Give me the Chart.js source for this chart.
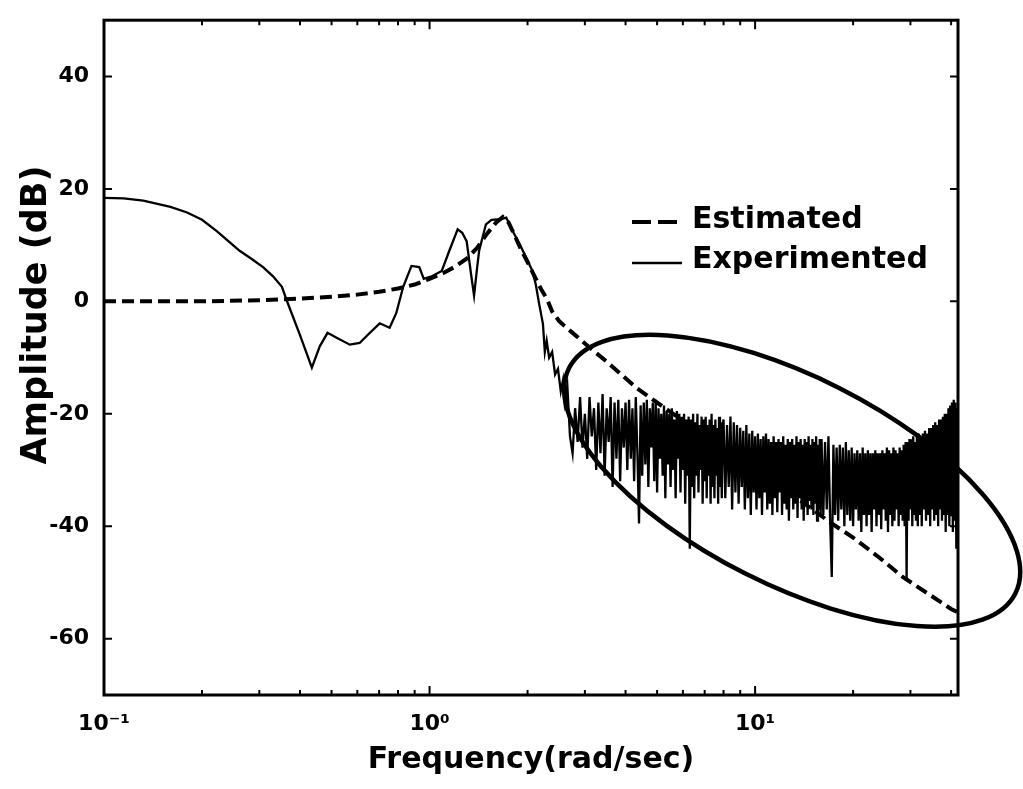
<!DOCTYPE html>
<html>
<head>
<meta charset="utf-8">
<script src="https://cdn.jsdelivr.net/npm/chart.js@4.4.1/dist/chart.umd.min.js"></script>
<style>
  html, body { margin: 0; padding: 0; background: #ffffff; }
  #wrap { width: 1023px; height: 789px; position: relative; }
</style>
</head>
<body>
<div id="wrap"><canvas id="c" width="1023" height="789"></canvas></div>
<script>
// ---------- data ----------
const seriesNames = ['Estimated', 'Experimented'];
const xAxisTitle = 'Frequency(rad/sec)';
const yAxisTitle = 'Amplitude (dB)';

const xTickValues = [0.1, 1, 10];
const xTickLabels = ['10\u207B\u00B9', '10\u2070', '10\u00B9'];
const xMinorTicks = [0.2, 0.3, 0.4, 0.5, 0.6, 0.7, 0.8, 0.9, 2, 3, 4, 5, 6, 7, 8, 9, 20, 30, 40];
const yTickValues = [-60, -40, -20, 0, 20, 40];

// Estimated (dashed) response
const estFreq = [0.1, 0.2, 0.3, 0.4, 0.5, 0.6, 0.7, 0.8, 0.9, 1.0, 1.1, 1.2, 1.3, 1.4, 1.5, 1.6, 1.68, 1.75, 1.8, 1.9,
  2.0, 2.1, 2.2, 2.3, 2.38, 2.5, 2.6, 2.75, 3.1, 3.5, 3.81, 4.3, 4.83, 6, 8, 10, 13, 17.2, 20, 24, 28.4, 34, 40, 42];
const estAmp = [0, 0, 0.2, 0.5, 0.8, 1.2, 1.7, 2.3, 3.0, 4.0, 5.0, 6.2, 7.6, 9.5, 12, 14, 15, 14, 12.5, 9.5,
  7, 4.5, 2.2, 0.3, -1.8, -3.5, -4.4, -5.6, -8.2, -10.7, -12.6, -15.3, -17.4, -21.2, -26, -29.8, -34.4, -39.5, -42, -45.5, -49, -52, -54.7, -55.3];

// Experimented (solid) response
const expFreq = [
  0.1, 0.115, 0.132, 0.16, 0.18, 0.2, 0.222, 0.24, 0.261, 0.285, 0.308, 0.33, 0.352, 0.364, 0.40, 0.435, 0.46, 0.486,
  0.52, 0.569, 0.61, 0.65, 0.703, 0.754, 0.79, 0.83, 0.88, 0.93, 0.96, 1.02, 1.09, 1.15, 1.22, 1.26, 1.30, 1.34, 1.37,
  1.40, 1.42, 1.49, 1.55, 1.65, 1.72, 1.80, 1.89, 1.98, 2.07, 2.12, 2.17, 2.23, 2.26, 2.29, 2.33, 2.38, 2.43, 2.48, 2.53, 2.57,
  2.60, 2.65, 2.70, 2.75, 2.80, 2.85, 2.90, 2.95, 3.00, 3.05,
  3.10, 3.15, 3.20, 3.25, 3.30, 3.35, 3.40, 3.45, 3.50, 3.55,
  3.60, 3.65, 3.70, 3.75, 3.80, 3.85, 3.90, 3.95,
  4.00, 4.05, 4.10, 4.15, 4.20, 4.25, 4.30, 4.35, 4.40, 4.45,
  4.50, 4.55, 4.60, 4.65, 4.70, 4.75, 4.80, 4.85, 4.90, 4.95,
  5.00, 5.05, 5.10, 5.15, 5.20, 5.25, 5.30, 5.35, 5.40, 5.45,
  5.50, 5.55, 5.60, 5.65, 5.70, 5.75, 5.80, 5.85, 5.90, 5.95,
  6.00, 6.05, 6.10, 6.15, 6.20, 6.25, 6.30, 6.35, 6.40, 6.45,
  6.50, 6.55, 6.60, 6.65, 6.70, 6.75, 6.80, 6.85, 6.90, 6.95,
  7.00, 7.05, 7.10, 7.15, 7.20, 7.25, 7.30, 7.35, 7.40, 7.45,
  7.50, 7.55, 7.60, 7.65, 7.70, 7.75, 7.80, 7.85, 7.90, 7.95,
  8.0, 8.1, 8.2, 8.3, 8.4, 8.5, 8.6, 8.7, 8.8, 8.9,
  9.0, 9.1, 9.2, 9.3, 9.4, 9.5, 9.6, 9.7, 9.8, 9.9,
  10.0, 10.1, 10.2, 10.3, 10.4, 10.5, 10.6, 10.7, 10.8, 10.9,
  11.0, 11.1, 11.2, 11.3, 11.4, 11.5, 11.6, 11.7, 11.8, 11.9,
  12.0, 12.1, 12.2, 12.3, 12.4, 12.5, 12.6, 12.7, 12.8, 12.9,
  13.0, 13.1, 13.2, 13.3, 13.4, 13.5, 13.6, 13.7, 13.8, 13.9,
  14.0, 14.1, 14.2, 14.3, 14.4, 14.5, 14.6, 14.7, 14.8, 14.9,
  15.0, 15.1, 15.2, 15.3, 15.4, 15.5, 15.6, 15.7, 15.8, 15.9,
  16.0, 16.2, 16.4, 16.6, 16.8, 17.0, 17.2, 17.4, 17.6, 17.8,
  18.0, 18.2, 18.4, 18.6, 18.8, 19.0, 19.2, 19.4, 19.6, 19.8,
  20.0, 20.2, 20.4, 20.6, 20.8, 21.0, 21.2, 21.4, 21.6, 21.8,
  22.0, 22.2, 22.4, 22.6, 22.8, 23.0, 23.2, 23.4, 23.6, 23.8,
  24.0, 24.2, 24.4, 24.6, 24.8, 25.0, 25.2, 25.4, 25.6, 25.8,
  26.0, 26.2, 26.4, 26.6, 26.8, 27.0, 27.2, 27.4, 27.6, 27.8,
  28.0, 28.2, 28.4, 28.6, 28.8, 29.0, 29.2, 29.4, 29.6, 29.8,
  30.0, 30.2, 30.4, 30.6, 30.8, 31.0, 31.2, 31.4, 31.6, 31.8,
  32.0, 32.25, 32.5, 32.75, 33.0, 33.25, 33.5, 33.75, 34.0, 34.25,
  34.5, 34.75, 35.0, 35.25, 35.5, 35.75, 36.0, 36.25, 36.5, 36.75,
  37.0, 37.25, 37.5, 37.75, 38.0, 38.25, 38.5, 38.75, 39.0, 39.25,
  39.5, 39.75, 40.0, 40.25, 40.5, 40.75, 41.0, 41.25, 41.5, 41.75,
  42.0
];
const expAmp = [
  18.4, 18.3, 17.9, 16.8, 15.8, 14.5, 12.5, 10.8, 9.0, 7.5, 6.1, 4.5, 2.6, 0.2, -6, -11.8, -8, -5.6,
  -6.5, -7.7, -7.4, -5.8, -3.9, -4.7, -2.1, 2.6, 6.3, 6.1, 4, 4.5, 5.4, 9, 12.8, 12.2, 10.7, 5, 1,
  6, 9, 13.7, 14.5, 14.6, 14.9, 12.5, 10.2, 7.8, 5.4, 3, -0.4, -4, -9, -7, -10, -9, -13, -12, -16, -14,
  -18, -15, -24, -27, -19, -25, -17, -26, -20, -28,
  -17, -24, -19, -30, -18, -27, -16.5, -31, -19, -25,
  -17, -33, -18, -28, -17.5, -32, -19, -26,
  -18, -30, -17.5, -28, -19, -32, -17, -27, -39.5, -18.5,
  -31, -18, -29, -17.5, -33, -19, -26, -18, -32, -17.5,
  -34, -19, -28, -20, -31, -18.5, -35, -19.5, -29, -20,
  -33, -19, -30, -21, -35, -19.5, -28, -20, -34, -20.5,
  -30, -20, -36, -21, -31, -20.5, -44, -21, -33, -20,
  -35, -21.5, -31, -20, -34, -22, -30, -20.5, -36, -21,
  -32, -20.5, -35, -22, -31, -21, -36, -20, -33, -22,
  -35, -21, -31, -22.5, -36, -20.5, -33, -21.5, -35, -22,
  -21, -35, -22, -33, -20.5, -37, -21.5, -34, -22, -36,
  -22.5, -33, -23, -37, -22, -35, -23.5, -38, -23, -34,
  -24, -37, -23.5, -35, -24.5, -38, -24, -34, -23.5, -37,
  -24.5, -36, -25, -38, -24, -35, -25, -37.5, -24.5, -34,
  -25, -38, -24, -36, -25.5, -37, -24.5, -39, -25, -35,
  -24.5, -37, -25.5, -36, -24, -38.5, -25, -35, -24.5, -37,
  -25.5, -39, -24.5, -36, -25, -38, -24, -35.5, -25.5, -37,
  -24.5, -38, -25, -36, -24, -39, -25.5, -37, -24.5, -38,
  -24.5, -38, -25, -37, -24, -39, -49, -25.5, -38, -26,
  -39, -25.5, -37, -26, -40, -25, -38, -26.5, -39, -26,
  -40, -27, -37, -26.5, -39, -27, -41, -26, -38, -27,
  -40, -26.5, -38, -27, -41, -27, -37, -26.5, -40, -27,
  -38, -27, -40.5, -26.5, -37, -27, -39, -26, -41, -26.5,
  -38, -27, -40, -26, -39, -26.5, -37, -27, -40, -26,
  -38, -26.5, -39, -25.5, -40, -25, -49.5, -25, -39, -24.5,
  -37, -24.5, -40, -24, -38, -25, -39, -24, -40, -23.5,
  -38, -24, -40, -23.5, -37, -23, -39, -23.5, -38, -22.5,
  -40, -22.5, -37, -22, -39, -21.5, -38, -22, -40, -21,
  -37, -21, -39, -20.5, -38, -20, -41, -20, -38, -19,
  -40, -18.5, -38, -18, -41, -17.5, -39, -18, -44, -19,
  -38
];

// Highlight ellipse annotation (centre in data units)
const ellipseCenter = { x: 13.0, y: -31.9 };

// ---------- chart ----------
const FONT = "'DejaVu Sans', 'Liberation Sans', Arial, sans-serif";

const overlay = {
  id: 'overlay',
  afterDraw(chart) {
    const { ctx, chartArea: a, scales: { x, y } } = chart;
    ctx.save();
    ctx.strokeStyle = '#000';
    ctx.fillStyle = '#000';
    ctx.setLineDash([]);
    // frame
    ctx.lineWidth = 3;
    ctx.strokeRect(a.left, a.top, a.right - a.left, a.bottom - a.top);
    // inward ticks
    ctx.lineWidth = 2;
    ctx.beginPath();
    yTickValues.forEach(v => {
      const py = y.getPixelForValue(v);
      ctx.moveTo(a.left, py); ctx.lineTo(a.left + 8, py);
      ctx.moveTo(a.right, py); ctx.lineTo(a.right - 8, py);
    });
    xTickValues.forEach(v => {
      const px = x.getPixelForValue(v);
      ctx.moveTo(px, a.bottom); ctx.lineTo(px, a.bottom - 9);
      ctx.moveTo(px, a.top); ctx.lineTo(px, a.top + 9);
    });
    xMinorTicks.forEach(v => {
      const px = x.getPixelForValue(v);
      ctx.moveTo(px, a.bottom); ctx.lineTo(px, a.bottom - 5);
      ctx.moveTo(px, a.top); ctx.lineTo(px, a.top + 5);
    });
    ctx.stroke();
    // ellipse annotation
    const cx = x.getPixelForValue(ellipseCenter.x);
    const cy = y.getPixelForValue(ellipseCenter.y);
    ctx.lineWidth = 4.5;
    ctx.beginPath();
    ctx.ellipse(cx, cy, 250, 104, 26.8 * Math.PI / 180, 0, 2 * Math.PI);
    ctx.stroke();
    // legend
    ctx.lineWidth = 4;
    ctx.setLineDash([19, 7]);
    ctx.beginPath(); ctx.moveTo(632, 222); ctx.lineTo(684, 222); ctx.stroke();
    ctx.setLineDash([]);
    ctx.lineWidth = 2.5;
    ctx.beginPath(); ctx.moveTo(632, 263); ctx.lineTo(682, 263); ctx.stroke();
    ctx.font = 'bold 30px ' + FONT;
    ctx.textAlign = 'left';
    ctx.textBaseline = 'alphabetic';
    ctx.fillText(seriesNames[0], 692, 228);
    ctx.fillText(seriesNames[1], 692, 268);
    // y axis title
    ctx.save();
    ctx.translate(37, 315);
    ctx.rotate(-Math.PI / 2);
    ctx.font = 'bold 35px ' + FONT;
    ctx.textAlign = 'center';
    ctx.textBaseline = 'middle';
    ctx.fillText(yAxisTitle, 0, 0);
    ctx.restore();
    ctx.restore();
  }
};

new Chart(document.getElementById('c'), {
  type: 'line',
  data: {
    datasets: [
      {
        label: seriesNames[0],
        data: estFreq.map((f, i) => ({ x: f, y: estAmp[i] })),
        borderColor: '#000',
        borderWidth: 4,
        borderDash: [12, 6],
        pointRadius: 0,
        tension: 0,
        fill: false
      },
      {
        label: seriesNames[1],
        data: expFreq.map((f, i) => ({ x: f, y: expAmp[i] })),
        borderColor: '#000',
        borderWidth: 2.3,
        pointRadius: 0,
        tension: 0,
        fill: false
      }
    ]
  },
  options: {
    responsive: false,
    animation: false,
    devicePixelRatio: 1,
    layout: { padding: { left: 0, right: 65, top: 15, bottom: 0 } },
    plugins: { legend: { display: false }, tooltip: { enabled: false } },
    scales: {
      x: {
        type: 'logarithmic',
        min: 0.1,
        max: 42,
        afterFit: s => { s.height = 94; },
        afterBuildTicks: s => { s.ticks = xTickValues.map(v => ({ value: v })); },
        grid: { display: false },
        border: { display: false },
        ticks: {
          autoSkip: false,
          maxRotation: 0,
          padding: 8,
          color: '#000',
          font: { family: FONT, weight: 'bold', size: 22 },
          callback: (v) => {
            const i = xTickValues.indexOf(v);
            return i >= 0 ? xTickLabels[i] : '';
          }
        },
        title: {
          display: true,
          text: xAxisTitle,
          color: '#000',
          font: { family: FONT, weight: 'bold', size: 30 },
          padding: { top: 0, bottom: 11 }
        }
      },
      y: {
        type: 'linear',
        min: -70,
        max: 50,
        afterFit: s => { s.width = 104; },
        afterBuildTicks: s => { s.ticks = yTickValues.map(v => ({ value: v })); },
        grid: { display: false },
        border: { display: false },
        ticks: {
          padding: 7,
          color: '#000',
          font: { family: FONT, weight: 'bold', size: 22 }
        }
      }
    }
  },
  plugins: [overlay]
});
</script>
</body>
</html>
